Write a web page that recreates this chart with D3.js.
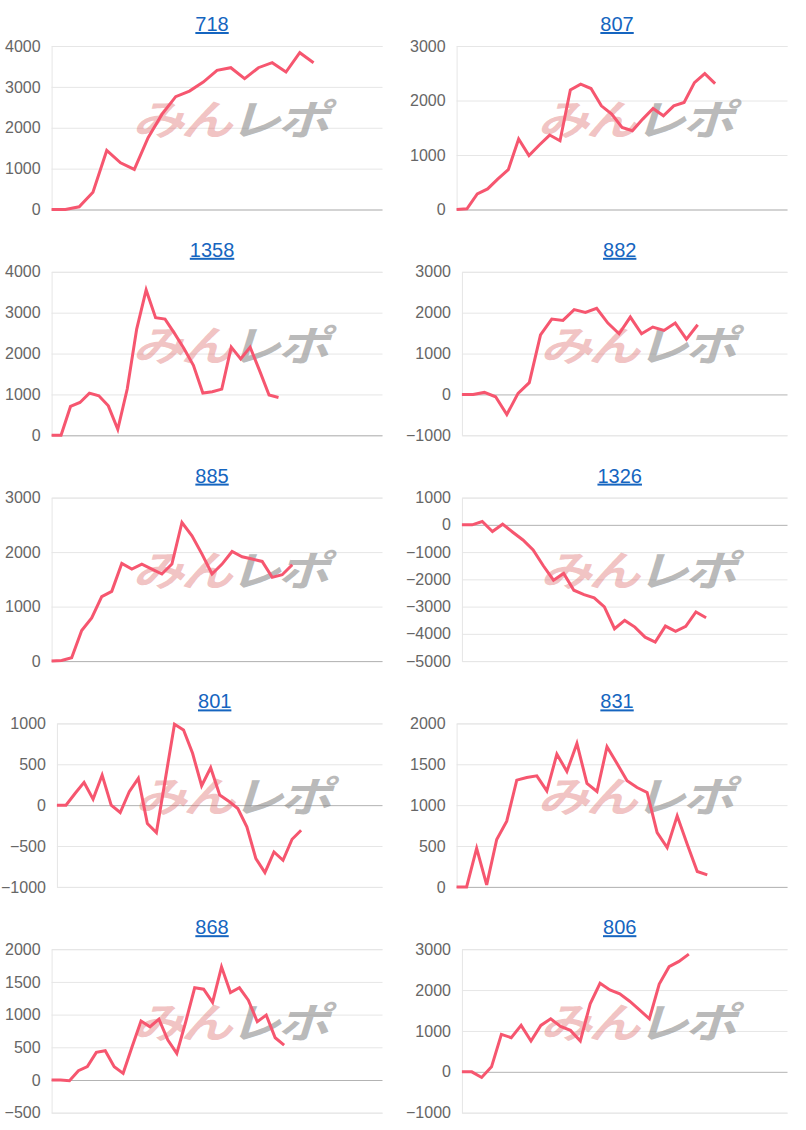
<!DOCTYPE html>
<html><head><meta charset="utf-8">
<script src="https://cdn.jsdelivr.net/npm/d3@7"></script>
<style>
html,body{margin:0;padding:0;background:#fff;}
svg{display:block;font-family:"Liberation Sans",Arial,sans-serif;}
</style></head>
<body><svg id="c" width="806" height="1130"></svg>
<script>
// ---- data ----
const titles = ["718","807","1358","882","885","1326","801","831","868","806"];

const s718  = [0,0,65,424,1445,1143,980,1755,2327,2760,2898,3118,3404,3469,3200,3469,3592,3363,3837,3592];
const s807  = [0,12,287,378,561,732,1293,988,1183,1366,1262,2195,2299,2220,1902,1750,1506,1445,1659,1854,1720,1902,1963,2329,2494,2311];
const s1358 = [0,0,705,803,1033,967,721,148,1131,2600,3557,2877,2844,2492,2123,1713,1033,1066,1131,2156,1869,2156,1582,984,926];
const s882  = [0,0,49,-57,-492,25,287,1459,1844,1811,2074,2008,2107,1746,1484,1893,1484,1648,1566,1746,1352,1705];
const s885  = [0,12,61,561,793,1183,1280,1793,1689,1780,1689,1598,1780,2543,2299,1963,1598,1780,2012,1915,1872,1829,1537,1585,1768];
const s1326 = [0,0,123,-246,25,-271,-554,-923,-1501,-2030,-1784,-2399,-2558,-2681,-3013,-3813,-3506,-3752,-4121,-4305,-3715,-3911,-3727,-3198,-3407];
const s801  = [0,0,143,278,74,368,0,-90,164,327,-225,-335,327,990,920,634,237,458,123,49,-41,-266,-654,-826,-573,-675,-417,-307];
const s831  = [0,0,473,24,580,804,1306,1339,1359,1175,1624,1412,1755,1265,1167,1714,1510,1298,1216,1155,665,482,869,522,188,147];
const s868  = [0,0,-10,143,204,422,448,204,102,509,901,814,931,611,407,891,1410,1389,1186,1730,1338,1410,1221,891,992,646,534];
const s806  = [0,0,-138,122,917,835,1135,754,1135,1298,1111,1014,754,1663,2166,2003,1906,1727,1517,1298,2149,2571,2701,2880];

// number of x slots on each chart's category axis
const slots = [24,32,35,29,33,32,36,33,37,33];

const ticks718  = [0,1000,2000,3000,4000];
const ticks807  = [0,1000,2000,3000];
const ticks1358 = [0,1000,2000,3000,4000];
const ticks882  = [-1000,0,1000,2000,3000];
const ticks885  = [0,1000,2000,3000];
const ticks1326 = [-5000,-4000,-3000,-2000,-1000,0,1000];
const ticks801  = [-1000,-500,0,500,1000];
const ticks831  = [0,500,1000,1500,2000];
const ticks868  = [-500,0,500,1000,1500,2000];
const ticks806  = [-1000,0,1000,2000,3000];

const seriesList = [s718,s807,s1358,s882,s885,s1326,s801,s831,s868,s806];
const tickList = [ticks718,ticks807,ticks1358,ticks882,ticks885,ticks1326,ticks801,ticks831,ticks868,ticks806];

// ---- drawing ----
const svg = d3.select("#c");
const colX = [0, 405];
const rowTop = 46, rowPitch = 225.8, plotH = 163.5;
const plotRight = 382.5;
const lineColor = "#f6566f";
const labelSize = 16;

const measure = svg.append("text").attr("font-size", labelSize).attr("visibility","hidden");
function textW(s){ measure.text(s); return measure.node().getComputedTextLength(); }

titles.forEach((t, i) => {
  const col = i % 2, row = Math.floor(i / 2);
  const data = seriesList[i], tk = tickList[i];
  const ox = colX[col];
  const maxW = d3.max(tk, v => textW(String(v)));
  const left = ox + 4 + maxW + 12;
  const right = ox + plotRight;
  const top = rowTop + row * rowPitch;
  const bottom = top + plotH;

  const x = d3.scaleLinear().domain([0, slots[i]]).range([left, right]);
  const y = d3.scaleLinear().domain([tk[0], tk[tk.length-1]]).range([bottom, top]);

  const g = svg.append("g");

  const yAxis = d3.axisLeft(y).tickValues(tk).tickSize(-(right-left)).tickPadding(11).tickFormat(d3.format("d"));
  const ag = g.append("g").attr("transform", `translate(${left},0)`).call(yAxis);
  ag.select(".domain").attr("stroke", "#e6e6e6");
  ag.selectAll(".tick line").attr("stroke", d => d === 0 ? "#b3b3b3" : "#e6e6e6").attr("stroke-width", 1);
  ag.selectAll(".tick text").attr("fill", "#666").attr("font-size", labelSize)
    .attr("font-family", '"Liberation Sans",Arial,sans-serif');

  // watermark
  const cx = (left + right) / 2 + 12, cy = (top + bottom) / 2 - 8;
  const wm = g.append("text")
    .attr("transform", `translate(${cx},${cy + 15}) scale(1.18,0.95)`)
    .attr("text-anchor", "middle").attr("font-size", 44).attr("font-weight", "bold")
    .attr("font-style", "italic").attr("font-family", '"Noto Sans CJK JP",sans-serif')
    .attr("letter-spacing", -3);
  wm.append("tspan").attr("fill", "rgba(222,110,110,0.42)").text("みん");
  wm.append("tspan").attr("fill", "rgba(140,140,140,0.6)").text("レポ");

  g.append("path").datum(data)
    .attr("fill", "none").attr("stroke", lineColor).attr("stroke-width", 3)
    .attr("stroke-linejoin", "miter")
    .attr("d", d3.line().x((d, j) => x(j)).y(d => y(d)));

  g.append("text").attr("x", (left + right) / 2 - 5).attr("y", top - 15)
    .attr("text-anchor", "middle").attr("font-size", 20).attr("fill", "#1565c0")
    .attr("text-decoration", "underline").text(t);
});
measure.remove();
</script></body></html>
